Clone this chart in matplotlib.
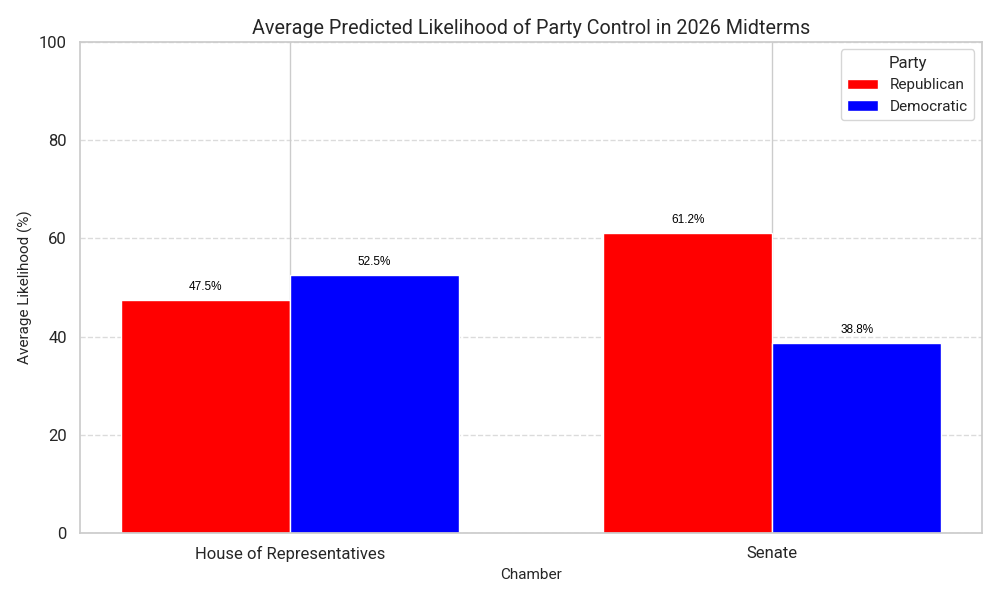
import numpy as np
import matplotlib.pyplot as plt
import seaborn as sns

chambers = ["House of Representatives", "Senate"]
parties = ["Republican", "Democratic"]
republican = [47.5, 61.2]
democratic = [52.5, 38.8]
colors = ["red", "blue"]

sns.set_theme(style="whitegrid")
plt.rcParams['font.family'] = ['Roboto', 'DejaVu Sans']

fig, ax = plt.subplots(figsize=(10, 6), dpi=100)
x = np.arange(len(chambers))
width = 0.35

bars_r = ax.bar(x - width/2, republican, width, label=parties[0], color=colors[0], edgecolor="white")
bars_d = ax.bar(x + width/2, democratic, width, label=parties[1], color=colors[1], edgecolor="white")

for bars in (bars_r, bars_d):
    for b in bars:
        h = b.get_height()
        ax.annotate(f"{h:.1f}%", (b.get_x() + b.get_width()/2, h), xytext=(0, 5),
                    textcoords="offset points", ha="center", va="bottom", fontsize=8.5,
                    color="black", family=['Liberation Sans', 'DejaVu Sans'])

ax.set_xticks(x)
ax.set_xticklabels(chambers, fontsize=12)
ax.tick_params(axis='y', labelsize=12)
ax.set_ylim(0, 100)
ax.set_xlabel("Chamber", fontsize=11)
ax.set_ylabel("Average Likelihood (%)", fontsize=11)
ax.set_title("Average Predicted Likelihood of Party Control in 2026 Midterms", fontsize=14.2)
ax.yaxis.grid(True, linestyle="--", alpha=0.7)
ax.legend(title="Party", fontsize=11, title_fontsize=12)

fig.tight_layout()
fig.savefig("out.png")
